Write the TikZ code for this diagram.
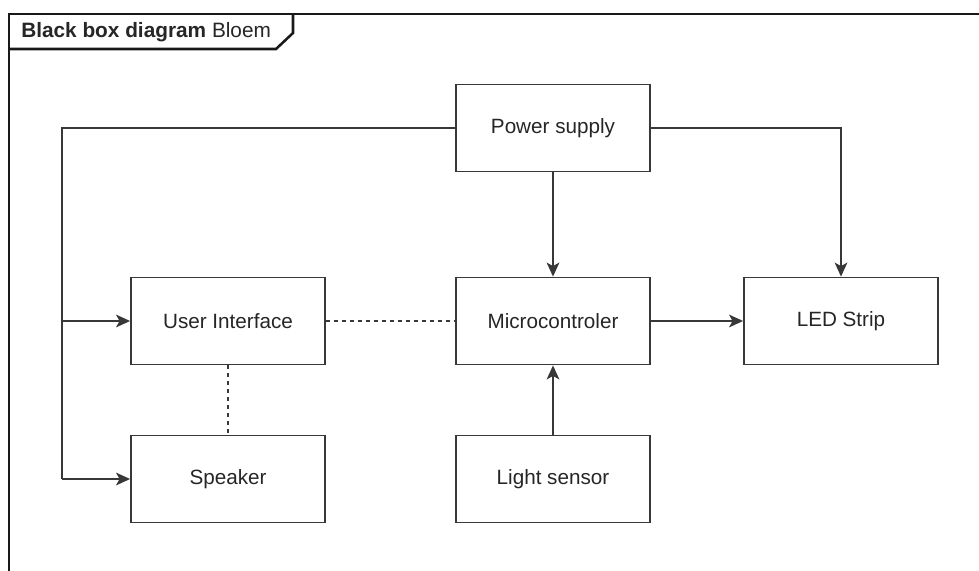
\documentclass[tikz,border=0pt]{standalone}
\usepackage{fontspec}
\setmainfont{Liberation Sans}
\usetikzlibrary{arrows.meta}
\begin{document}
\begin{tikzpicture}[x=0.75pt,y=-0.75pt,
  blk/.style={draw=black!78,line width=1.35pt,fill=white,minimum width=194*0.75pt,minimum height=87*0.75pt,inner sep=0pt,font=\fontsize{15.5}{18}\selectfont,text=black!85},
  conn/.style={draw=black!78,line width=1.35pt},
  arr/.style={conn,-{Stealth[length=10.5pt,width=9.5pt,inset=2.6pt]}},
  dsh/.style={conn,dash pattern=on 3pt off 3pt},
  frame/.style={draw=black!90,line width=1.9pt}]
\useasboundingbox (0,0) rectangle (979,571);
\begin{scope}
\clip (0,0) rectangle (979,571);
\draw[frame] (9,580) -- (9,14) -- (985,14);
\draw[frame] (9,49) -- (276,49) -- (293,33) -- (293,14);
\end{scope}
\node[anchor=west,inner sep=0pt,font=\fontsize{15.6}{18}\selectfont,text=black!85] (title) at (21,32) {\textbf{Black box diagram} Bloem};

\node[blk] (ps) at (553,128) {Power supply};
\node[blk] (ui) at (228,321) {User Interface};
\node[blk] (mc) at (553,321) {Microcontroler};
\node[blk] (led) at (841,321) {LED Strip};
\node[blk] (sp) at (228,479) {Speaker};
\node[blk] (ls) at (553,479) {Light sensor};

\coordinate (bl) at (62,128);
\coordinate (bu) at (62,321);
\coordinate (bs) at (62,479);
\coordinate (br) at (841,128);

\draw[conn] (ps.west) -- (bl) -- (bs);
\draw[arr] (bu) -- (ui.west);
\draw[arr] (bs) -- (sp.west);
\draw[arr] (ps.east) -- (br) -- (led.north);
\draw[arr] (ps.south) -- (mc.north);
\draw[arr] (mc.east) -- (led.west);
\draw[arr] (ls.north) -- (mc.south);
\draw[dsh] (ui.east) -- (mc.west);
\draw[dsh] (ui.south) -- (sp.north);
\end{tikzpicture}
\end{document}
